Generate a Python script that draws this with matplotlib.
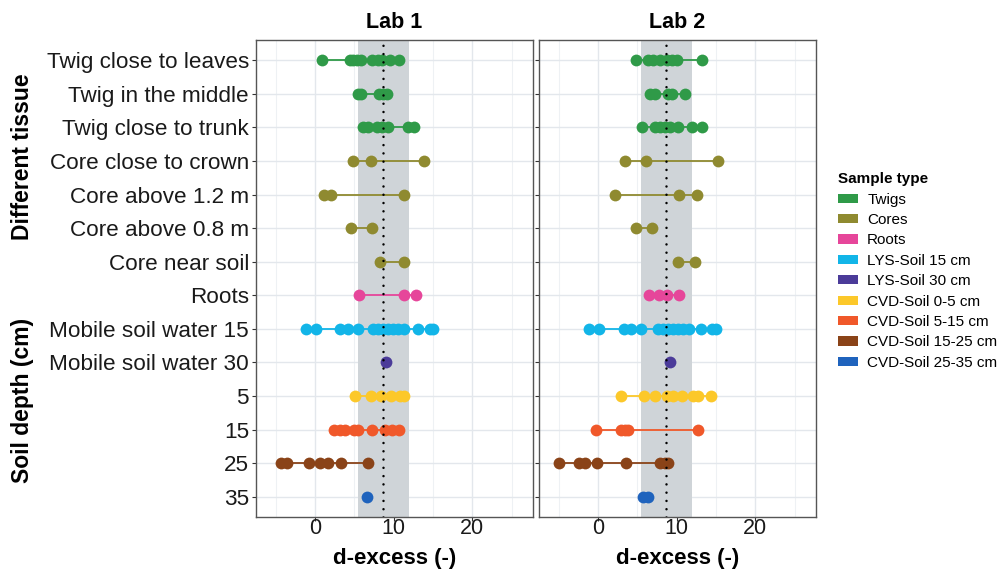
import matplotlib
matplotlib.use("Agg")
import matplotlib.pyplot as plt
from matplotlib.patches import Patch
import numpy as np

plt.rcParams['font.family'] = ['Liberation Sans', 'DejaVu Sans']

row_labels = ["Twig close to leaves", "Twig in the middle", "Twig close to trunk",
              "Core close to crown", "Core above 1.2 m", "Core above 0.8 m",
              "Core near soil", "Roots", "Mobile soil water 15", "Mobile soil water 30",
              "5", "15", "25", "35"]
row_types = ["Twigs", "Twigs", "Twigs", "Cores", "Cores", "Cores", "Cores", "Roots",
             "LYS-Soil 15 cm", "LYS-Soil 30 cm", "CVD-Soil 0-5 cm", "CVD-Soil 5-15 cm",
             "CVD-Soil 15-25 cm", "CVD-Soil 25-35 cm"]
sample_types = ["Twigs", "Cores", "Roots", "LYS-Soil 15 cm", "LYS-Soil 30 cm",
                "CVD-Soil 0-5 cm", "CVD-Soil 5-15 cm", "CVD-Soil 15-25 cm", "CVD-Soil 25-35 cm"]
type_colors = ["#2f9a48", "#8f8a30", "#e6469a", "#12b5e8", "#4b3b99",
               "#fcc82a", "#f0582a", "#8a4318", "#1f63bd"]

lab1 = [
    [0.85, 4.45, 4.87, 5.3, 5.85, 7.2, 8.05, 8.47, 9.53, 10.67],
    [5.5, 5.85, 8.13, 8.68, 9.19],
    [6.14, 6.77, 7.84, 8.47, 9.23, 11.86, 12.62],
    [4.87, 7.12, 13.9],
    [1.14, 2.03, 11.3],
    [4.57, 7.2],
    [8.26, 11.3],
    [5.63, 11.35, 12.8],
    [-1.14, 0.13, 3.18, 4.15, 5.42, 7.4, 8.05, 8.68, 9.32, 9.95, 10.6, 11.3, 13.1, 14.6, 15.0],
    [9.02],
    [5.08, 7.12, 8.39, 9.66, 10.8, 11.35],
    [2.46, 3.18, 3.81, 5.0, 5.42, 7.2, 8.9, 9.74, 10.67],
    [-4.36, -3.5, -0.76, 0.64, 1.61, 3.3, 6.77],
    [6.6],
]
lab2 = [
    [4.81, 6.39, 7.02, 7.87, 8.72, 9.36, 10.0, 13.2],
    [6.6, 7.24, 8.94, 9.36, 11.07],
    [5.53, 7.24, 7.88, 8.52, 9.16, 10.2, 12.0, 13.2],
    [3.49, 6.09, 15.2],
    [2.13, 10.34, 12.64],
    [4.81, 6.81],
    [10.2, 12.35],
    [6.51, 7.75, 8.81, 10.34],
    [-1.15, 0.13, 3.32, 4.17, 5.45, 7.58, 8.3, 8.94, 9.58, 10.2, 10.86, 11.5, 13.1, 14.5, 15.0],
    [9.15],
    [2.9, 5.87, 7.24, 8.72, 9.58, 10.73, 12.05, 12.68, 14.35],
    [-0.21, 2.9, 3.49, 3.83, 12.68],
    [-5.02, -2.47, -1.7, -0.13, 3.53, 7.88, 8.52, 8.94],
    [5.75, 6.3],
]
band_range = [5.4, 12.0]
ref_line = 8.7
panel_titles = ["Lab 1", "Lab 2"]
x_ticks = [0, 10, 20]

fig = plt.figure(figsize=(9.99, 5.70), dpi=100)
W, H = 999, 570
color_of = dict(zip(sample_types, type_colors))
n = len(row_labels)
ypos = np.arange(n)

axes = []
for i, (left, data) in enumerate([(256, lab1), (539, lab2)]):
    ax = fig.add_axes([left / W, (H - 517) / H, 277 / W, 477 / H])
    axes.append(ax)
    ax.set_xlim(-7.5, 27.7)
    ax.set_ylim(n - 1 + 0.6, -0.6)
    ax.axvspan(band_range[0], band_range[1], color="#cfd4d8", zorder=1, lw=0)
    ax.set_xticks(x_ticks)
    ax.set_xticks([-5, 5, 15, 25], minor=True)
    ax.grid(True, which="major", color="#e3e7ec", lw=1.0, zorder=0)
    ax.grid(True, which="minor", axis="x", color="#eef1f4", lw=0.8, zorder=0)
    ax.set_axisbelow(True)
    for y, vals, t in zip(ypos, data, row_types):
        c = color_of[t]
        ax.plot([min(vals), max(vals)], [y, y], color=c, lw=1.3, zorder=2)
        ax.plot(vals, [y] * len(vals), "o", color=c, ms=8.5, mew=0, zorder=3)
    ax.axvline(ref_line, color="black", lw=1.8, ls=(0, (0.01, 3.3)), dash_capstyle="round", zorder=4)
    ax.set_yticks(ypos)
    if i == 0:
        ax.set_yticklabels(row_labels, fontsize=16.2, color="#1a1a1a")
    else:
        ax.set_yticklabels([])
    ax.tick_params(axis="y", length=3, color="#333333", pad=2)
    ax.tick_params(axis="x", length=3, color="#333333", labelsize=15.5, pad=-2,
                   labelcolor="#1a1a1a")
    ax.tick_params(which="minor", length=0)
    for s in ax.spines.values():
        s.set_color("#555555")
        s.set_linewidth(1.0)
    ax.set_title(panel_titles[i], fontsize=15.5, fontweight="bold", pad=9)
    ax.set_xlabel("d-excess (-)", fontsize=16, fontweight="bold", labelpad=6)

fig.text(23 / W, (H - 157) / H, "Different tissue", rotation=90, ha="center", va="center",
         fontsize=16.5, fontweight="bold")
fig.text(23 / W, (H - 400) / H, "Soil depth (cm)", rotation=90, ha="center", va="center",
         fontsize=16.5, fontweight="bold")

handles = [Patch(facecolor=c, edgecolor="none", label=t) for t, c in zip(sample_types, type_colors)]
leg = fig.legend(handles=handles, loc="upper left", bbox_to_anchor=(832 / W, (H - 166) / H),
                 frameon=False, title="Sample type", fontsize=11, title_fontsize=11,
                 handlelength=1.3, handleheight=0.55, labelspacing=0.42, handletextpad=0.6,
                 borderaxespad=0)
leg.get_title().set_fontweight("bold")
leg._legend_box.align = "left"

fig.savefig("out.png", dpi=100)
